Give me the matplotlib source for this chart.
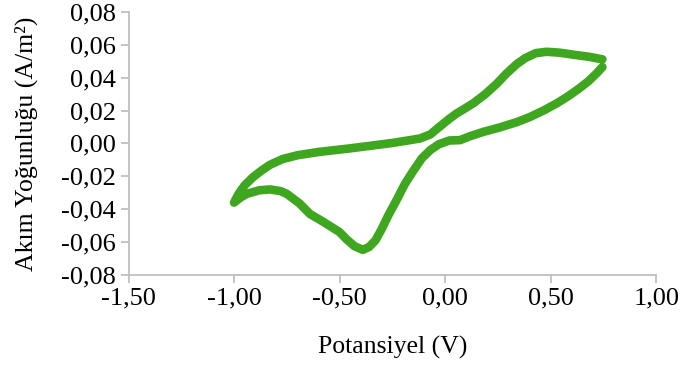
import matplotlib
matplotlib.use("Agg")
import matplotlib.pyplot as plt
from matplotlib.ticker import FuncFormatter

# Anodic (upper) branch, scanned from +0.75 V back to -1.0 V
upper_potential = [0.745, 0.68, 0.61, 0.54, 0.48, 0.43, 0.38, 0.34, 0.29, 0.245, 0.19,
                   0.134, 0.09, 0.055, 0.02, -0.03, -0.07, -0.12, -0.25, -0.45, -0.60,
                   -0.70, -0.77, -0.83, -0.87, -0.91, -0.95, -0.98, -1.0]
upper_current = [0.0512, 0.0528, 0.0540, 0.0553, 0.0558, 0.0550, 0.0520, 0.0484, 0.0425,
                 0.0364, 0.0300, 0.0245, 0.0210, 0.0183, 0.0150, 0.0098, 0.0055, 0.0030,
                 0.0003, -0.0030, -0.0052, -0.0072, -0.0095, -0.0130, -0.0165, -0.0205,
                 -0.0255, -0.0310, -0.0360]

# Cathodic (lower) branch, scanned from -1.0 V to +0.75 V
lower_potential = [-1.0, -0.97, -0.94, -0.88, -0.83, -0.78, -0.75, -0.69, -0.64, -0.58,
                   -0.50, -0.47, -0.43, -0.39, -0.36, -0.33, -0.30, -0.27, -0.23, -0.19,
                   -0.15, -0.11, -0.07, -0.03, 0.02, 0.07, 0.12, 0.18, 0.26, 0.34, 0.40,
                   0.47, 0.53, 0.58, 0.63, 0.68, 0.72, 0.745]
lower_current = [-0.0360, -0.0330, -0.0307, -0.0285, -0.0280, -0.0290, -0.0307, -0.0365,
                 -0.0430, -0.0475, -0.0540, -0.0580, -0.0625, -0.0648, -0.0630, -0.0590,
                 -0.0520, -0.0440, -0.0345, -0.0245, -0.0165, -0.0090, -0.0040, -0.0005,
                 0.0018, 0.0020, 0.0045, 0.0070, 0.0098, 0.0130, 0.0160, 0.0203, 0.0245,
                 0.0285, 0.0330, 0.0380, 0.0430, 0.0465]

x_ticks = [-1.5, -1.0, -0.5, 0.0, 0.5, 1.0]
y_ticks = [-0.08, -0.06, -0.04, -0.02, 0.0, 0.02, 0.04, 0.06, 0.08]

plt.rcParams['font.family'] = ['Liberation Serif', 'DejaVu Serif']

fig = plt.figure(figsize=(6.8, 3.65), dpi=100)
ax = fig.add_axes([0.189, 0.247, 0.776, 0.72])

green = '#3FA61F'
ax.plot(upper_potential + lower_potential, upper_current + lower_current,
        color=green, lw=6.2, solid_capstyle='round', solid_joinstyle='round')

ax.set_xlim(-1.5, 1.0)
ax.set_ylim(-0.08, 0.08)
ax.set_xticks(x_ticks)
ax.set_yticks(y_ticks)
ax.xaxis.set_major_formatter(FuncFormatter(lambda v, p: f"{v:.2f}".replace('.', ',')))
ax.yaxis.set_major_formatter(FuncFormatter(lambda v, p: f"{v:.2f}".replace('.', ',')))

for s in ['top', 'right']:
    ax.spines[s].set_visible(False)
for s in ['left', 'bottom']:
    ax.spines[s].set_color('#BFBFBF')
    ax.spines[s].set_linewidth(1.3)
ax.tick_params(axis='both', direction='out', length=6, width=1.3, color='#BFBFBF',
               labelsize=19, labelcolor='black', pad=3)

ax.set_xlabel('Potansiyel (V)', fontsize=18.5, labelpad=19)
ax.set_ylabel('Akım Yoğunluğu (A/m²)', fontsize=18.5, labelpad=17)

fig.savefig('out.png', dpi=100)
